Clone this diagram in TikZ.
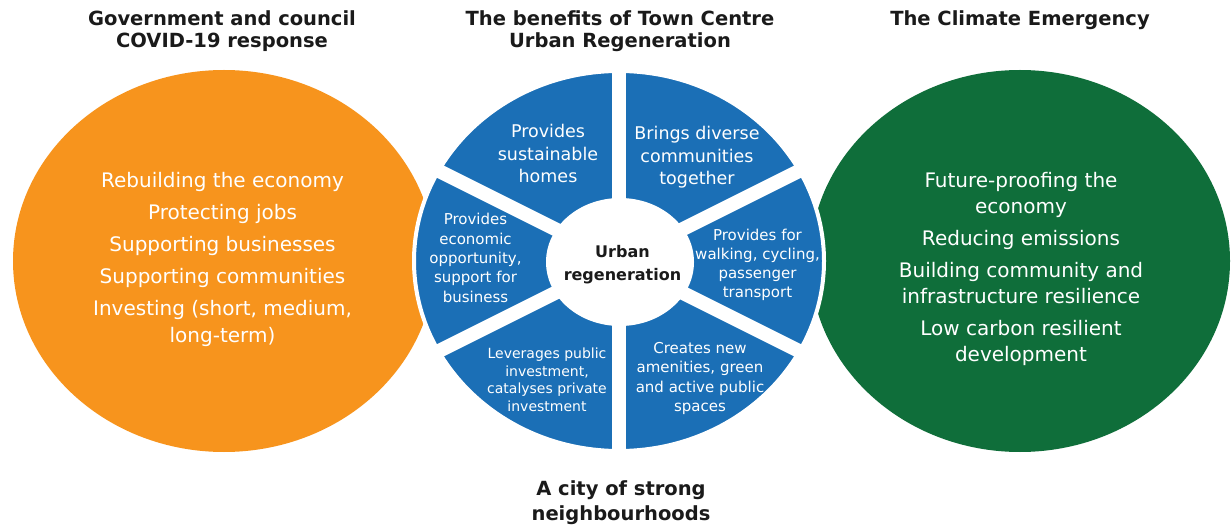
\documentclass[tikz,border=0pt]{standalone}
\usepackage{fontspec}
\setmainfont{DejaVu Sans}
\usetikzlibrary{shapes.geometric}
\definecolor{corange}{HTML}{F7941D}
\definecolor{cblue}{HTML}{1B6FB6}
\definecolor{cgreen}{HTML}{0F6E3A}
\definecolor{ctext}{HTML}{1A1A1A}
\tikzset{
  blob/.style={ellipse, inner sep=0pt, outer sep=0pt},
  bodytxt/.style={text=white, align=center, inner sep=0pt, font=\fontsize{20}{27}\selectfont},
  greentxt/.style={text=white, align=center, inner sep=0pt, font=\fontsize{20}{26}\selectfont},
  sectlarge/.style={text=white, align=center, inner sep=0pt, font=\fontsize{17.5}{22.5}\selectfont},
  sectmid/.style={text=white, align=center, inner sep=0pt, font=\fontsize{15}{19.3}\selectfont},
  sectsmall/.style={text=white, align=center, inner sep=0pt, font=\fontsize{14}{17.8}\selectfont},
  headtxt/.style={text=ctext, align=center, inner sep=0pt, font=\bfseries\fontsize{19.5}{22}\selectfont},
  hubtxt/.style={text=ctext, align=center, inner sep=0pt, font=\bfseries\fontsize{16}{22.3}\selectfont},
  gapline/.style={draw=white, line width=14pt},
}
\begin{document}
\begin{tikzpicture}[x=1pt, y=-1pt]
\fill[white] (0,0) rectangle (1231,529);
\useasboundingbox (0,0) rectangle (1231,529);

% big circles
\node[blob, fill=corange, minimum width=422pt, minimum height=382pt] (covid) at (224,261) {};
\node[blob, fill=cgreen, minimum width=420pt, minimum height=382pt] (climate) at (1020,261) {};

% blue pie
\node[blob, fill=cblue, draw=white, line width=4pt, minimum width=410pt, minimum height=380pt] (pie) at (619,261) {};
\begin{scope}
  \clip (619,261) ellipse [x radius=204pt, y radius=189pt];
  \draw[gapline] (pie.center) -- ++(0,-250);
  \draw[gapline] (pie.center) -- ++(0,250);
  \draw[gapline] (pie.center) -- ++(230,-115);
  \draw[gapline] (pie.center) -- ++(230,115);
  \draw[gapline] (pie.center) -- ++(-230,-115);
  \draw[gapline] (pie.center) -- ++(-230,115);
\end{scope}
\node[blob, fill=white, minimum width=148pt, minimum height=128pt] (hub) at (620,262) {};

% headings
\node[headtxt] (h1) at (222,30.9) {Government and council\\COVID-19 response};
\node[headtxt] (h2) at (620,30.9) {The benefits of Town Centre\\Urban Regeneration};
\node[headtxt] (h3) at (1020,19.9) {The Climate Emergency};
\node[headtxt, font=\bfseries\fontsize{19.5}{25}\selectfont] (h4) at (621,502.4) {A city of strong\\neighbourhoods};

% orange text
\node[bodytxt] (covidtxt) at (222.5,259.3) {Rebuilding the economy\\[5pt]Protecting jobs\\[5pt]Supporting businesses\\[5pt]Supporting communities\\[5pt]Investing (short, medium,\\long-term)};

% green text
\node[greentxt] (climatetxt) at (1021,269.2) {Future-proofing the\\economy\\[6pt]Reducing emissions\\[6pt]Building community and\\infrastructure resilience\\[6pt]Low carbon resilient\\development};

% sector texts
\node[sectlarge] (s1) at (548,153.5) {Provides\\sustainable\\homes};
\node[sectlarge] (s2) at (697,157.4) {Brings diverse\\communities\\together};
\node[sectmid] (s3) at (475.5,258) {Provides\\economic\\opportunity,\\support for\\business};
\node[sectmid] (s4) at (757.5,264.9) {Provides for\\walking, cycling,\\passenger\\transport};
\node[sectsmall] (s5) at (547,379.7) {Leverages public\\investment,\\catalyses private\\investment};
\node[sectmid] (s6) at (700,378.6) {Creates new\\amenities, green\\and active public\\spaces};

% hub text
\node[hubtxt] (hubtext) at (622.5,264.6) {Urban\\regeneration};
\end{tikzpicture}
\end{document}
